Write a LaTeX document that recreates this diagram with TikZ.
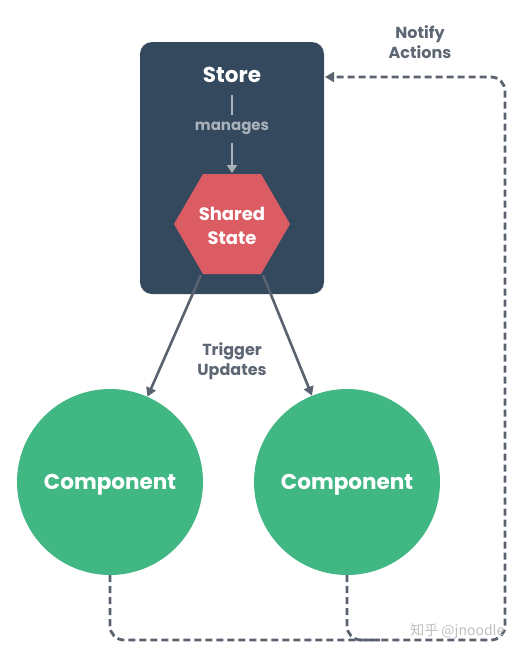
\documentclass[tikz,border=0pt]{standalone}
\usepackage{fontspec}
\setmainfont{Poppins}
\newfontfamily\cjkfont{Noto Sans CJK SC}
\usetikzlibrary{arrows.meta}
\definecolor{storebg}{HTML}{35495E}
\definecolor{statered}{HTML}{DC5C64}
\definecolor{compgreen}{HTML}{41B883}
\definecolor{linegray}{HTML}{5A6270}
\definecolor{lightgray}{HTML}{A9B1BA}
\definecolor{labelgray}{HTML}{5D6673}
\tikzset{
  storebox/.style={fill=storebg, rounded corners=12pt, minimum width=184pt, minimum height=252pt, inner sep=0pt},
  comp/.style={circle, fill=compgreen, minimum size=186pt, inner sep=0pt, text depth=0pt, text=white, font=\bfseries\fontsize{21.5}{24}\selectfont},
  whitetext/.style={text=white, font=\bfseries\fontsize{18}{22}\selectfont, align=center},
  lbl/.style={text=labelgray, font=\bfseries\fontsize{16}{20}\selectfont, align=center},
  solidarrow/.style={draw=linegray, line width=2.6pt, -{Triangle[length=9pt,width=10pt]}},
  managearrow/.style={draw=lightgray, line width=2.8pt},
  dashline/.style={draw=linegray, line width=2.8pt, dash pattern=on 7pt off 4pt, rounded corners=14pt},
}
\begin{document}
\begin{tikzpicture}[x=1pt,y=-1pt]
\useasboundingbox (0,0) rectangle (519,657);
% store
\node[storebox] (store) at (232,168) {};
\node[whitetext, font=\bfseries\fontsize{21.5}{24}\selectfont] (storelbl) at (232,75) {Store};
\node[text=lightgray, font=\bfseries\fontsize{15}{18}\selectfont] (manages) at (232,128) {manages};
\coordinate (m1) at (232,95);
\coordinate (m2) at (232,115);
\coordinate (m3) at (232,143);
\coordinate (m4) at (232,173);
\draw[managearrow] (m1) -- (m2);
\draw[managearrow, -{Triangle[length=8pt,width=10pt]}] (m3) -- (m4);
% hexagon
\fill[statered] (203,174) -- (261,174) -- (290,224) -- (261,274) -- (203,274) -- (174,224) -- cycle;
\node[whitetext, font=\bfseries\fontsize{18}{24}\selectfont] (hex) at (232,226) {Shared\\State};
\coordinate (hbl) at (201,275);
\coordinate (hbr) at (263,275);
% components
\node[comp] (c1) at (110,482) {Component};
\node[comp] (c2) at (347,482) {Component};
\draw[solidarrow] (hbl) -- (c1);
\draw[solidarrow] (hbr) -- (c2);
\node[lbl] (trig) at (232,361) {Trigger\\Updates};
\node[lbl] (notify) at (420,42) {Notify\\Actions};
% dashed loop
\coordinate (na) at (325,77);
\coordinate (b1) at (110,640);
\coordinate (br) at (505,640);
\coordinate (tr) at (505,77);
\coordinate (b2) at (347,640);
\coordinate (b2e) at (380,640);
\draw[dashline, -{Triangle[length=9pt,width=10pt]}] (c1.south) -- (b1) -- (br) -- (tr) -- (na);
\draw[dashline] (c2.south) -- (b2) -- (b2e);
% watermark
\node[text=gray!50, font=\cjkfont\fontsize{14}{16}\selectfont, anchor=east] (wm) at (508,631) {知乎 @jnoodle};
\end{tikzpicture}
\end{document}
